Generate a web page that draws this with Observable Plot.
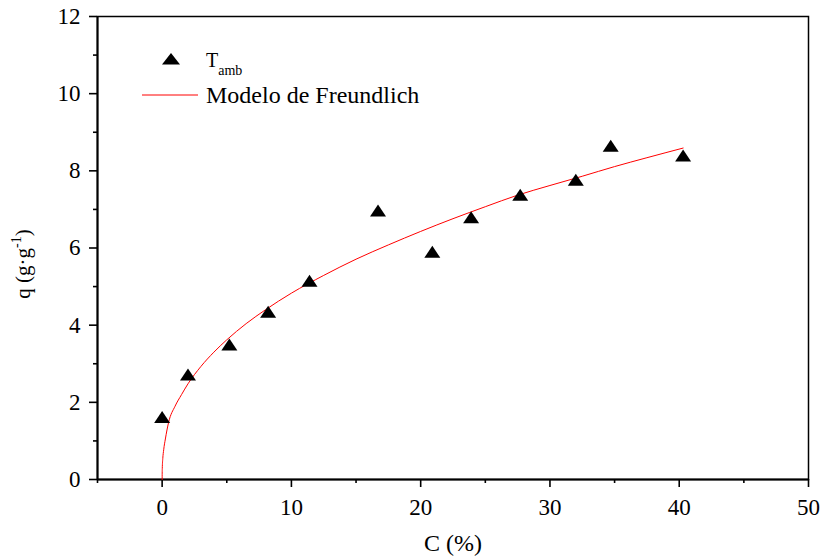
<!DOCTYPE html>
<html>
<head>
<meta charset="utf-8">
<script src="https://cdn.jsdelivr.net/npm/d3@7"></script>
<script src="https://cdn.jsdelivr.net/npm/@observablehq/plot@0.6"></script>
<style>
  html, body { margin: 0; padding: 0; background: white; }
</style>
</head>
<body>
<div id="chart"></div>
<script>
// Measured data (T_amb)
const concC = [0, 2.0, 5.2, 8.2, 11.4, 16.7, 20.9, 23.9, 27.7, 32.0, 34.7, 40.3];
const qValues = [1.62, 2.72, 3.5, 4.35, 5.15, 6.97, 5.9, 6.8, 7.38, 7.77, 8.65, 8.4];

// Freundlich model curve
const fitC = [0, 0.01, 0.05, 0.12, 0.25, 0.5, 1, 1.5, 2, 3, 4, 5, 6.5, 8, 10, 12.5, 15, 17.5, 20, 22.5, 25, 27.5, 30, 32.5, 35, 37.5, 40.3];
const fitQ = [0, 0.28, 0.54, 0.77, 1.05, 1.48, 1.9, 2.2, 2.48, 2.93, 3.3, 3.62, 4.04, 4.4, 4.83, 5.29, 5.71, 6.08, 6.43, 6.76, 7.07, 7.37, 7.62, 7.86, 8.11, 8.34, 8.59];

// Axis ticks
const xMajor = [0, 10, 20, 30, 40, 50];
const xMinor = [-5, 5, 15, 25, 35, 45];
const yMajor = [0, 2, 4, 6, 8, 10, 12];
const yMinor = [1, 3, 5, 7, 9, 11];

const points = concC.map((c, i) => ({c, q: qValues[i]}));
const fit = fitC.map((c, i) => ({c, q: fitQ[i]}));

const tri = {
  draw(ctx) {
    ctx.moveTo(0, -6);
    ctx.lineTo(8, 6);
    ctx.lineTo(-8, 6);
    ctx.closePath();
  }
};

const chart = Plot.plot({
  width: 822,
  height: 558,
  marginLeft: 97,
  marginRight: 14,
  marginTop: 16,
  marginBottom: 79,
  style: {fontFamily: "'Liberation Serif', 'Times New Roman', serif", fontSize: "23px", color: "black", background: "white"},
  x: {domain: [-5, 50]},
  y: {domain: [0, 12]},
  marks: [
    Plot.axisX({ticks: xMinor, tickSize: 4, tickFormat: () => "", label: null, strokeWidth: 1.6}),
    Plot.axisX({ticks: xMajor, tickSize: 8, tickPadding: 11, label: null, strokeWidth: 1.6}),
    Plot.axisY({ticks: yMinor, tickSize: 4, tickFormat: () => "", label: null, strokeWidth: 1.6}),
    Plot.axisY({ticks: yMajor, tickSize: 8, tickPadding: 9, label: null, strokeWidth: 1.6}),
    Plot.frame({strokeWidth: 1.5}),
    Plot.ruleY([0], {strokeWidth: 2}),
    Plot.ruleX([-5], {strokeWidth: 2}),
    Plot.line(fit, {x: "c", y: "q", stroke: "red", strokeWidth: 1, curve: "monotone-x"}),
    Plot.dot(points, {x: "c", y: "q", symbol: tri, fill: "black", stroke: "none", r: 6}),
    Plot.text(["C (%)"], {frameAnchor: "bottom", dy: 64, fontSize: 24, lineAnchor: "middle", fill: "black"})
  ]
});

const svg = d3.select(chart);
const font = "'Liberation Serif', 'Times New Roman', serif";

// Y axis title with superscript
const yt = svg.append("text")
  .attr("transform", "translate(30,264) rotate(-90)")
  .attr("text-anchor", "middle")
  .attr("font-family", font)
  .attr("font-size", 21)
  .attr("fill", "black");
yt.append("tspan").text("q (g·g");
yt.append("tspan").attr("font-size", 14).attr("dy", -9).text("-1");
yt.append("tspan").attr("dy", 9).text(")");

// Legend
const lg = svg.append("g").attr("font-family", font).attr("fill", "black").attr("text-anchor", "start");
lg.append("path").attr("d", "M171,53 L180,64.5 L162,64.5 Z").attr("fill", "black");
const t1 = lg.append("text").attr("x", 206).attr("y", 67).attr("font-size", 20).attr("text-anchor", "start");
t1.append("tspan").text("T");
t1.append("tspan").attr("font-size", 14).attr("dy", 8).text("amb");
lg.append("line").attr("x1", 142).attr("x2", 198).attr("y1", 95).attr("y2", 95)
  .attr("stroke", "red").attr("stroke-width", 1);
lg.append("text").attr("x", 206).attr("y", 103).attr("font-size", 24).attr("text-anchor", "start").text("Modelo de Freundlich");

document.getElementById("chart").appendChild(chart);
</script>
</body>
</html>
